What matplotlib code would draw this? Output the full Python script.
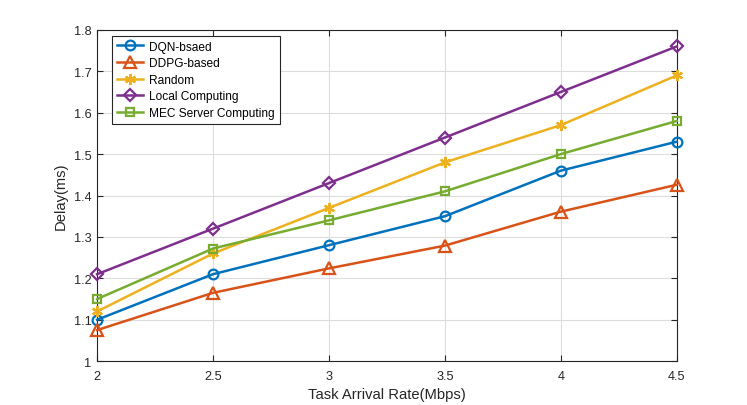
import matplotlib
matplotlib.use("Agg")
import matplotlib.pyplot as plt

x = [2, 2.5, 3, 3.5, 4, 4.5]
dqn = [1.10, 1.21, 1.28, 1.35, 1.46, 1.53]
ddpg = [1.075, 1.165, 1.224, 1.279, 1.361, 1.426]
rnd = [1.12, 1.26, 1.37, 1.48, 1.57, 1.69]
local = [1.21, 1.32, 1.43, 1.54, 1.65, 1.76]
mec = [1.15, 1.272, 1.34, 1.41, 1.50, 1.58]
labels = ["DQN-bsaed", "DDPG-based", "Random", "Local Computing", "MEC Server Computing"]
xticks = [2, 2.5, 3, 3.5, 4, 4.5]
yticks = [1, 1.1, 1.2, 1.3, 1.4, 1.5, 1.6, 1.7, 1.8]

plt.rcParams['font.family'] = ['Liberation Sans', 'DejaVu Sans']
plt.rcParams['font.size'] = 9

fig = plt.figure(figsize=(7.47, 4.06), dpi=100)
ax = fig.add_axes([0.13, 0.108, 0.776, 0.816])

series = [dqn, ddpg, rnd, local, mec]
colors = ['#0072BD', '#D95319', '#EDB120', '#7E2F8E', '#77AC30']
markers = ['o', '^', (6, 2, 0), 'D', 's']
msizes = [7, 8, 8, 6, 6]
for s, c, m, ms, lab in zip(series, colors, markers, msizes, labels):
    ax.plot(x, s, color=c, marker=m, markersize=ms, markerfacecolor='none',
            markeredgewidth=1.6, linewidth=1.8, label=lab, clip_on=False, zorder=3)

ax.set_xlim(2, 4.5)
ax.set_ylim(1, 1.8)
ax.set_xticks(xticks)
ax.set_xticklabels([f"{v:g}" for v in xticks])
ax.set_yticks(yticks)
ax.set_yticklabels([f"{v:g}" for v in yticks])
ax.grid(True, color='#dddddd', linewidth=0.8)
ax.set_axisbelow(True)
ax.tick_params(direction='in', top=True, right=True, length=4, colors='#262626',
               labelcolor='#262626', labelsize=9.2)
ax.tick_params(axis='x', pad=6.5)
ax.tick_params(axis='y', pad=4)
for sp in ax.spines.values():
    sp.set_color('#262626')
    sp.set_linewidth(0.8)
ax.set_xlabel("Task Arrival Rate(Mbps)", color='#262626', labelpad=3.5, fontsize=10.6)
ax.set_ylabel("Delay(ms)", color='#262626', labelpad=4.5, fontsize=10.6)

leg = ax.legend(loc='upper left', bbox_to_anchor=(15/580, 1 - 6/331), borderaxespad=0,
                fancybox=False, framealpha=1,
                edgecolor='#262626', borderpad=0.4, labelspacing=0.38, handlelength=2.2,
                handletextpad=0.5, fontsize=8.6)
leg.get_frame().set_linewidth(0.8)
leg.set_zorder(5)

fig.savefig("out.png", dpi=100)
